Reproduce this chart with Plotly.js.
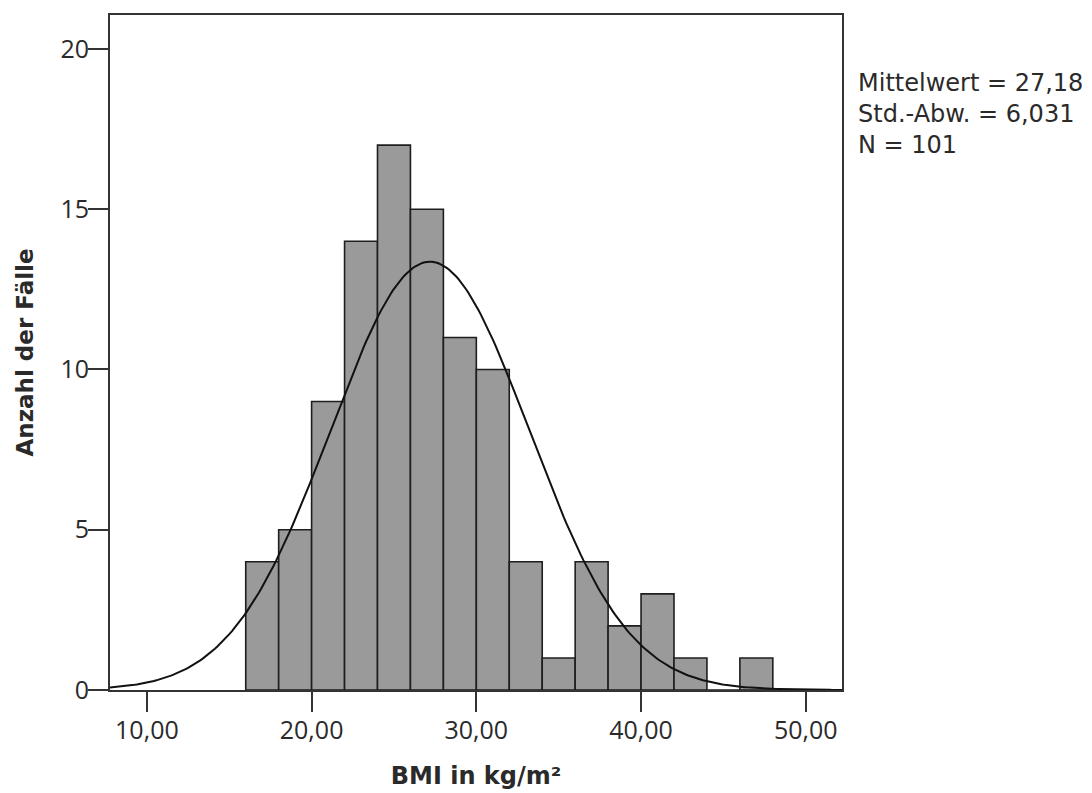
<!DOCTYPE html>
<html>
<head>
<meta charset="utf-8">
<script src="https://cdn.plot.ly/plotly-3.0.1.min.js"></script>
<style>html,body{margin:0;padding:0;background:#fff;}#chart{width:1092px;height:793px;}</style>
</head>
<body>
<div id="chart"></div>
<script>
// Histogram bins (lower edges, width 2) and counts
const binStarts = [16, 18, 20, 22, 24, 26, 28, 30, 32, 34, 36, 38, 40, 42, 44, 46];
const counts    = [4, 5, 9, 14, 17, 15, 11, 10, 4, 1, 4, 2, 3, 1, 0, 1];
const binWidth = 2;
// Summary statistics shown in the chart
const meanValue = 27.18;
const sdValue = 6.031;
const nValue = 101;
const xTicks = [10, 20, 30, 40, 50];
const yTicks = [0, 5, 10, 15, 20];
const statLines = ['Mittelwert = 27,18', 'Std.-Abw. = 6,031', 'N = 101'];

const binCenters = binStarts.map(s => s + binWidth / 2);

// Normal curve defined by the stated mean, SD and N (scaled to counts per bin)
const xRange = [7.76, 52.2];
const curveX = [], curveY = [];
for (let i = 0; i <= 300; i++) {
  const x = xRange[0] + (xRange[1] - xRange[0]) * i / 300;
  const z = (x - meanValue) / sdValue;
  curveX.push(x);
  curveY.push(nValue * binWidth * Math.exp(-0.5 * z * z) / (sdValue * Math.sqrt(2 * Math.PI)));
}

const FONT = '"Open Sans", "DejaVu Sans", sans-serif';
const DVS = '"DejaVu Sans", sans-serif';
const DARK = '#2a2a2a';

const traces = [
  {
    type: 'bar', x: binCenters, y: counts, width: binWidth,
    marker: {color: '#9a9a9a', line: {color: '#1e1e1e', width: 1.6}},
    hoverinfo: 'skip'
  },
  {
    type: 'scatter', mode: 'lines', x: curveX, y: curveY,
    line: {color: '#111', width: 2}, hoverinfo: 'skip'
  }
];

const layout = {
  width: 1092, height: 793,
  margin: {l: 110, r: 250, t: 15, b: 103},
  paper_bgcolor: '#fff', plot_bgcolor: '#fff',
  separators: ',.',
  showlegend: false,
  font: {family: FONT, color: DARK},
  xaxis: {
    range: xRange, tickvals: xTicks, tickformat: '.2f',
    ticks: 'outside', ticklen: 20, tickwidth: 2, tickcolor: '#333',
    showline: true, linecolor: '#333', linewidth: 2, mirror: true,
    showgrid: false, zeroline: false,
    ticklabelstandoff: -3,
    tickfont: {family: FONT, size: 25, color: DARK},
    title: {text: 'BMI in kg/m²', font: {family: DVS, size: 24, color: DARK, weight: 'bold'}, standoff: 22}
  },
  yaxis: {
    range: [0, 21.06], tickvals: yTicks,
    ticks: 'outside', ticklen: 20, tickwidth: 2, tickcolor: '#333',
    showline: true, linecolor: '#333', linewidth: 2, mirror: true,
    showgrid: false, zeroline: false,
    ticklabelstandoff: -6,
    tickfont: {family: FONT, size: 25, color: DARK},
    title: {text: 'Anzahl der Fälle', font: {family: DVS, size: 23, color: DARK, weight: 'bold'}, standoff: 20}
  },
  annotations: [{
    xref: 'paper', yref: 'paper', x: 1.019, y: 0.923,
    xanchor: 'left', yanchor: 'top', align: 'left', showarrow: false,
    text: statLines.join('<br>'),
    font: {family: DVS, size: 24, color: DARK}
  }]
};

Plotly.newPlot('chart', traces, layout, {staticPlot: true, displayModeBar: false});
</script>
</body>
</html>
